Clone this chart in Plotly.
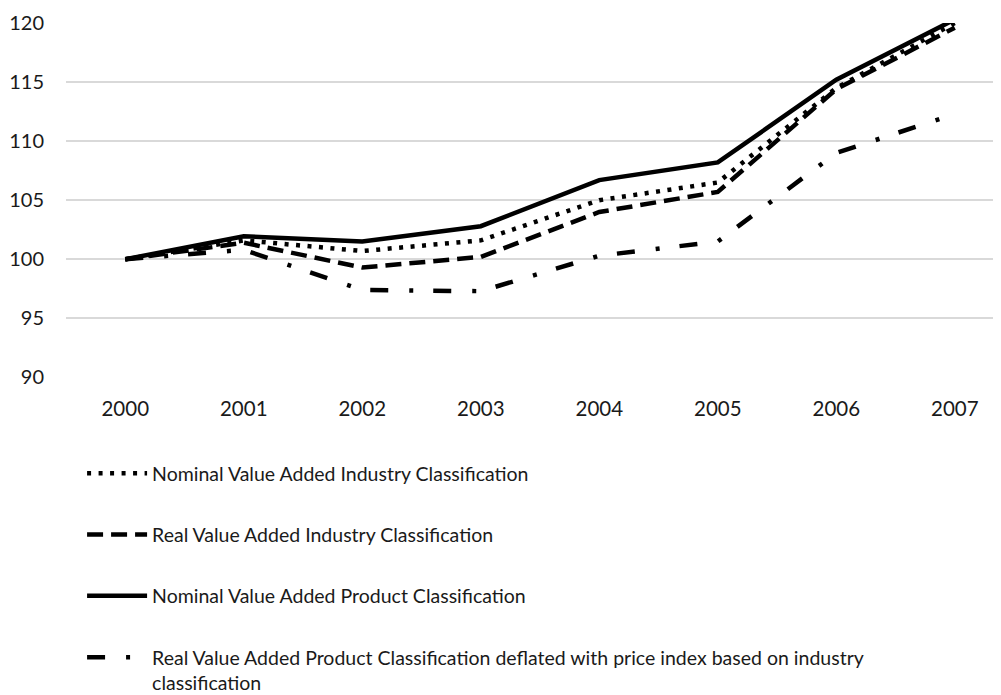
import plotly.graph_objects as go

years = ["2000", "2001", "2002", "2003", "2004", "2005", "2006", "2007"]
nominal_industry = [100, 101.6, 100.7, 101.6, 105.0, 106.5, 114.5, 120.0]
real_industry = [100, 101.4, 99.3, 100.2, 104.0, 105.7, 114.4, 119.6]
nominal_product = [100, 101.95, 101.5, 102.8, 106.7, 108.2, 115.2, 120.3]
real_product_deflated = [100, 100.8, 97.4, 97.3, 100.3, 101.5, 109.0, 112.3]

names = [
    "Nominal Value Added Industry Classification",
    "Real Value Added Industry Classification",
    "Nominal Value Added Product Classification",
    "Real Value Added Product Classification deflated with price index based on industry<br>classification",
]
y_ticks = [90, 95, 100, 105, 110, 115, 120]

FONT = "Lato"
fig = go.Figure()
series = [nominal_industry, real_industry, nominal_product, real_product_deflated]
dashes = ["4px,7.5px", "16px,8px", "solid", "18px,21px,4px,20px"]
for i, (vals, nm, dsh) in enumerate(zip(series, names, dashes)):
    fig.add_trace(go.Scatter(
        x=years, y=vals, mode="lines", name=nm, legendgroup=str(i),
        line=dict(color="black", width=4.5, dash=dsh),
    ))

# page body has an 8px default margin, so the figure is sized to fit inside
fig.update_layout(
    width=993, height=687,
    margin=dict(l=58, r=0, t=15, b=317, autoexpand=False),
    paper_bgcolor="white", plot_bgcolor="white",
    font=dict(family=FONT, size=20, color="#1a1a1a"),
    showlegend=True,
    legend=dict(
        orientation="v", x=0.0172, y=-0.214, xanchor="left", yanchor="top",
        tracegroupgap=33, valign="top", itemwidth=60,
        font=dict(size=19.5, family=FONT, color="#1a1a1a"),
        bgcolor="rgba(0,0,0,0)",
    ),
    xaxis=dict(
        type="category", range=[-0.5, 7.39], showgrid=False, zeroline=False,
        showline=False, ticks="", tickfont=dict(size=20.5, family=FONT),
        ticklabelstandoff=16,
    ),
    yaxis=dict(
        range=[89.95, 120], tickvals=y_ticks, showgrid=True, gridcolor="#d9d9d9",
        gridwidth=1.5, zeroline=False, showline=False, ticks="",
        tickfont=dict(size=20, family=FONT), ticklabelstandoff=21,
    ),
)
fig.write_html("out.html")
